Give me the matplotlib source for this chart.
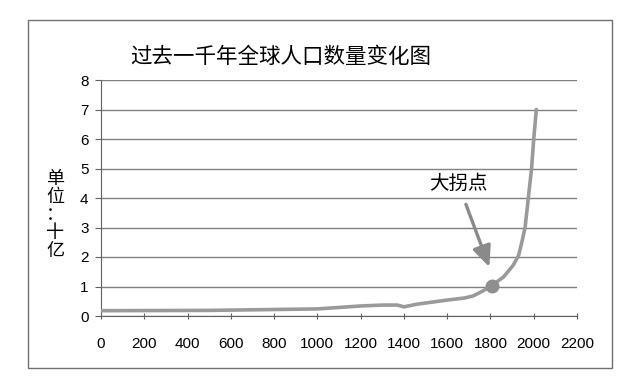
import matplotlib.pyplot as plt
from matplotlib.patches import Rectangle

plt.rcParams['font.family'] = ['Noto Sans CJK SC', 'DejaVu Sans']

# 年份 与 人口（十亿）
years = [0, 500, 1000, 1100, 1200, 1300, 1370, 1400, 1460, 1600, 1680, 1720,
         1765, 1800, 1860, 1905, 1930, 1945, 1960, 1975, 1990, 2000, 2012]
population = [0.18, 0.19, 0.24, 0.29, 0.34, 0.37, 0.37, 0.31, 0.40, 0.54, 0.61,
              0.68, 0.85, 1.0, 1.32, 1.72, 2.05, 2.5, 3.0, 4.0, 5.0, 6.0, 7.0]
turn_year = 1805
turn_pop = 1.01
x_ticks = list(range(0, 2201, 200))
y_ticks = list(range(0, 9))

fig = plt.figure(figsize=(6.4, 3.91), dpi=100)
fig.patches.append(Rectangle((28 / 640, 1 - 368 / 391), 584 / 640, 348 / 391,
                             transform=fig.transFigure, fill=False,
                             edgecolor='#707070', linewidth=1))

ax = fig.add_axes([101 / 640, 75 / 391, 476 / 640, 236 / 391])
ax.set_xlim(0, 2200)
ax.set_ylim(0, 8)
ax.set_xticks(x_ticks)
ax.set_yticks(y_ticks)
ax.yaxis.grid(True, color='#808080', linewidth=1)
ax.set_axisbelow(True)
for s in ['top', 'right']:
    ax.spines[s].set_visible(False)
for s in ['left', 'bottom']:
    ax.spines[s].set_color('#606060')
ax.tick_params(axis='y', length=4, color='#606060', pad=5, labelsize=11)
ax.tick_params(axis='x', length=4, direction='inout', color='#606060',
               pad=13, labelsize=11)
for lab in ax.get_xticklabels() + ax.get_yticklabels():
    lab.set_family(['Liberation Sans', 'DejaVu Sans'])

ax.plot(years, population, color='#9a9a9a', linewidth=2.6,
        solid_capstyle='round', zorder=3)
ax.plot([turn_year], [turn_pop], 'o', color='#8f8f8f', markersize=9, zorder=4)

ax.annotate('大拐点', xy=(turn_year - 10, turn_pop + 0.65),
            xytext=(1650, 4.5), ha='center', va='center', fontsize=14,
            arrowprops=dict(arrowstyle='-|>,head_length=0.9,head_width=0.4',
                            color='#8a8a8a', linewidth=2.4,
                            shrinkA=6, shrinkB=0))

fig.text(281 / 640, 1 - 57 / 391, '过去一千年全球人口数量变化图',
         ha='center', va='center', fontsize=15.5)
fig.text(55 / 640, 1 - 215 / 391, '单\n位\n：\n十\n亿', ha='center',
         va='center', fontsize=13, linespacing=1.0)

fig.savefig('out.png', dpi=100)
